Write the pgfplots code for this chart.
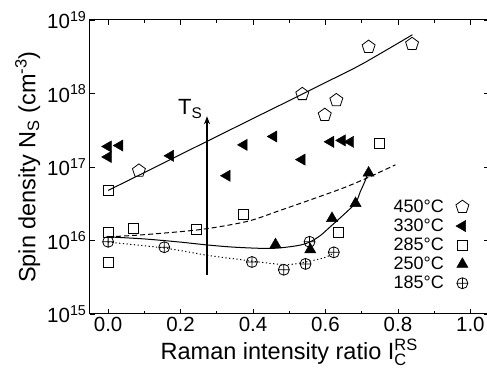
\documentclass[border=0pt]{standalone}
\usepackage{fontspec}
\setmainfont{Liberation Sans}
\setmathrm{Liberation Sans}
\usepackage{pgfplots}
\pgfplotsset{compat=1.18}
\usetikzlibrary{arrows.meta}
\begin{document}
\begin{tikzpicture}[x=1bp,y=1bp]
\useasboundingbox (-90,-64) rectangle (397,314);
\begin{axis}[
  at={(0,0)}, anchor=south west,
  scale only axis, width=398.5bp, height=294bp,
  xmin=-0.05, xmax=1.05, ymode=log, ymin=1e15, ymax=1e19,
  xtick={0,0.2,0.4,0.6,0.8,1.0},
  xticklabels={0.0,0.2,0.4,0.6,0.8,1.0},
  minor xtick={0.1,0.3,0.5,0.7,0.9},
  ytick={1e15,1e16,1e17,1e18,1e19},
  yticklabels={10\textsuperscript{15},10\textsuperscript{16},10\textsuperscript{17},10\textsuperscript{18},10\textsuperscript{19}},
  yminorticks=false,
  tick align=inside,
  major tick length=5bp, minor tick length=3bp,
  tick style={black, line width=0.8bp},
  axis line style={line width=1bp},
  ticklabel style={font=\fontsize{20.5bp}{24bp}\selectfont},
  xlabel={Raman intensity ratio $\mathrm{I}_{\mathrm{C}}^{\mathrm{RS}}$},
  ylabel={Spin density N\textsubscript{S} (cm\textsuperscript{-3})},
  label style={font=\fontsize{23.5bp}{27bp}\selectfont},
  legend style={at={(0.759,0.392)}, anchor=north west, draw=none, fill=none,
    inner sep=0bp, nodes={inner sep=1bp},
    font=\fontsize{18bp}{20bp}\selectfont, row sep=3bp, column sep=11bp},
  legend plot pos=right,
  legend cell align=left,
]
% 450 C
\addplot[only marks, mark=pentagon, mark size=6.8bp, mark options={line width=0.8bp, fill=white}]
  coordinates {(0.085,8.9e16) (0.536,9.8e17) (0.598,5.1e17) (0.630,8.1e17) (0.719,4.3e18) (0.839,4.7e18)};
\addlegendentry{450°C}
% 330 C
\addplot[only marks, mark=triangle*, mark size=6.5bp, mark options={rotate=90, fill=black}]
  coordinates {(0.0,1.9e17) (0.032,1.96e17) (0.0,1.37e17) (0.172,1.42e17) (0.328,7.6e16) (0.375,2.0e17) (0.457,2.6e17) (0.535,1.26e17) (0.614,2.2e17) (0.646,2.3e17) (0.669,2.2e17)};
\addlegendentry{330°C}
% 285 C
\addplot[only marks, mark=square, mark size=5bp, mark options={line width=0.8bp, fill=white}]
  coordinates {(0.0,4.8e16) (0.0,1.3e16) (0.069,1.47e16) (0.244,1.42e16) (0.374,2.3e16) (0.637,1.3e16) (0.749,2.1e17) (0.0,5.0e15)};
\addlegendentry{285°C}
% 250 C
\addplot[only marks, mark=triangle*, mark size=6.5bp, mark options={fill=black}]
  coordinates {(0.462,8.8e15) (0.558,7.5e15) (0.618,2.0e16) (0.683,3.2e16) (0.719,8.3e16)};
\addlegendentry{250°C}
% 185 C
\addplot[only marks, mark=oplus, mark size=5.5bp, mark options={line width=0.8bp, fill=white}]
  coordinates {(0.0,9.6e15) (0.155,8.1e15) (0.397,5.1e15) (0.485,4.0e15) (0.545,4.8e15) (0.556,9.6e15) (0.623,6.9e15)};
\addlegendentry{185°C}
% fitted curves
\addplot[forget plot, smooth, line width=1bp]
  coordinates {(0,4.8e16) (0.1,8.4e16) (0.2,1.48e17) (0.3,2.6e17) (0.4,4.57e17) (0.5,8.0e17) (0.6,1.41e18) (0.7,2.5e18) (0.84,6.3e18)};
\addplot[forget plot, smooth, line width=1bp]
  coordinates {(0,1.12e16) (0.1,1.05e16) (0.2,9.5e15) (0.273,8.7e15) (0.35,8.1e15) (0.45,7.8e15) (0.522,8.5e15) (0.556,9.5e15) (0.586,1.17e16) (0.614,1.55e16) (0.650,2.24e16) (0.683,3.24e16) (0.696,4.6e16) (0.710,6.6e16) (0.719,9.1e16)};
\addplot[forget plot, smooth, line width=1bp, dash pattern=on 5bp off 3bp]
  coordinates {(0,1.12e16) (0.1,1.2e16) (0.255,1.41e16) (0.384,1.82e16) (0.475,2.57e16) (0.567,3.7e16) (0.65,5.2e16) (0.715,7.1e16) (0.793,1.07e17)};
\addplot[forget plot, smooth, line width=1bp, dash pattern=on 1.2bp off 2.5bp]
  coordinates {(0,9.5e15) (0.155,7.9e15) (0.273,6.3e15) (0.365,5.5e15) (0.485,4.7e15) (0.545,5.1e15) (0.6,5.9e15) (0.623,6.8e15)};
% T_S arrow
\draw[line width=1.6bp, -{Stealth[length=8bp,width=6bp]}] (axis cs:0.273,3.4e15) -- (axis cs:0.273,4.9e17);
\node[font=\fontsize{22bp}{24bp}\selectfont] at (axis cs:0.227,6.2e17) {T\textsubscript{S}};
\end{axis}
\end{tikzpicture}
\end{document}
